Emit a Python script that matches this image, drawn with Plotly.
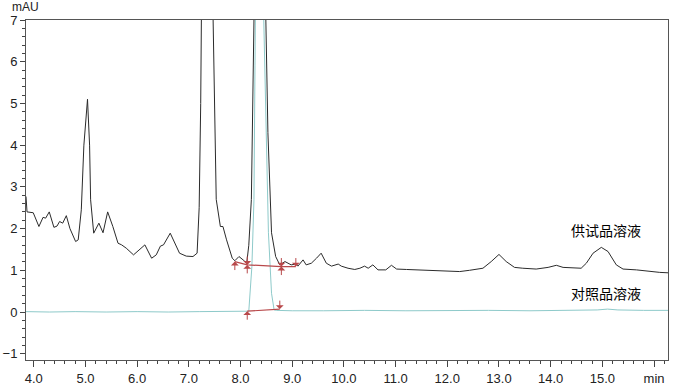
import plotly.graph_objects as go

# Sample solution chromatogram (time in min, signal in mAU)
sample_t = [3.85, 3.87, 3.99, 4.10, 4.18, 4.23, 4.30, 4.39, 4.45, 4.50, 4.56, 4.63, 4.70, 4.81, 4.86,
            4.92, 4.97, 5.04, 5.08, 5.10, 5.16, 5.26, 5.34, 5.43, 5.53, 5.63, 5.70, 5.79, 5.93, 6.05,
            6.15, 6.28, 6.37, 6.45, 6.51, 6.64, 6.73, 6.82, 6.95, 7.08, 7.16, 7.20, 7.23, 7.26, 7.36,
            7.47, 7.53, 7.61, 7.66, 7.73, 7.84, 7.89, 7.97, 8.05, 8.12, 8.16, 8.21, 8.26, 8.37, 8.49,
            8.53, 8.60, 8.68, 8.76, 8.86, 8.98, 9.07, 9.11, 9.21, 9.27, 9.37, 9.47, 9.56, 9.66, 9.76,
            9.89, 9.95, 10.08, 10.21, 10.31, 10.40, 10.47, 10.56, 10.66, 10.81, 10.92, 11.02, 11.21,
            11.47, 11.72, 11.98, 12.24, 12.43, 12.69, 12.85, 13.00, 13.14, 13.30, 13.46, 13.72, 13.95,
            14.11, 14.24, 14.43, 14.59, 14.69, 14.82, 14.98, 15.11, 15.27, 15.40, 15.66, 15.85, 16.11, 16.27]
sample_v = [2.77, 2.40, 2.38, 2.05, 2.27, 2.25, 2.40, 2.03, 2.06, 2.17, 2.13, 2.31, 2.00, 1.69, 1.73,
            2.45, 4.00, 5.10, 4.00, 2.69, 1.89, 2.13, 1.90, 2.40, 2.05, 1.65, 1.61, 1.53, 1.37, 1.49,
            1.61, 1.29, 1.37, 1.58, 1.61, 1.89, 1.65, 1.41, 1.34, 1.33, 1.41, 2.50, 5.00, 7.00, 25.0,
            7.00, 2.70, 2.05, 2.05, 1.73, 1.29, 1.23, 1.33, 1.25, 1.17, 1.60, 2.70, 7.00, 30.0, 7.00,
            4.30, 1.90, 1.33, 1.13, 1.21, 1.13, 1.15, 1.10, 1.25, 1.13, 1.17, 1.29, 1.41, 1.17, 1.10,
            1.15, 1.10, 1.05, 1.02, 1.05, 1.10, 1.05, 1.13, 1.01, 1.01, 1.12, 1.03, 1.02,
            1.01, 0.99, 0.98, 0.97, 1.00, 1.05, 1.21, 1.38, 1.21, 1.07, 1.05, 1.03, 1.07,
            1.12, 1.07, 1.05, 1.05, 1.17, 1.41, 1.55, 1.45, 1.13, 1.03, 1.01, 0.98, 0.95, 0.94]

# Reference solution chromatogram
ref_t = [3.85, 4.30, 4.80, 5.40, 6.00, 6.60, 7.20, 7.80, 8.10, 8.16, 8.22, 8.26, 8.28, 8.29, 8.37,
         8.45, 8.49, 8.54, 8.60, 8.65, 8.70, 9.00, 9.60, 10.40, 11.20, 12.00, 12.80, 13.60, 14.40,
         14.90, 15.10, 15.30, 15.80, 16.27]
ref_v = [0.01, 0.00, 0.01, 0.00, 0.01, 0.00, 0.01, 0.01, 0.01, 0.02, 1.09, 2.69, 5.90, 7.00, 20.0,
         7.00, 4.30, 1.90, 0.45, 0.05, 0.04, 0.03, 0.03, 0.04, 0.03, 0.04, 0.04, 0.03, 0.04,
         0.05, 0.07, 0.05, 0.04, 0.04]

# Integration baselines
sample_base_t = [7.89, 8.13, 8.79, 9.07]
sample_base_v = [1.21, 1.13, 1.09, 1.09]
sample_up_t = [7.89, 8.13, 8.79]
sample_up_v = [1.21, 1.13, 1.09]
sample_down_t = [8.13, 8.79, 9.07]
sample_down_v = [1.13, 1.09, 1.09]
ref_base_t = [8.13, 8.76]
ref_base_v = [0.02, 0.07]

x_ticks = [4, 5, 6, 7, 8, 9, 10, 11, 12, 13, 14, 15, 16]
x_tick_text = ["4.0", "5.0", "6.0", "7.0", "8.0", "9.0", "10.0", "11.0", "12.0", "13.0", "14.0", "15.0", "min"]
labels = ["供试品溶液", "对照品溶液"]
label_t = [15.07, 15.07]
label_v = [1.97, 0.46]

red = "#b8484a"
fig = go.Figure()
fig.add_trace(go.Scatter(x=ref_t, y=ref_v, mode="lines",
                         line=dict(color="#8ecaca", width=1), showlegend=False))
fig.add_trace(go.Scatter(x=sample_t, y=sample_v, mode="lines",
                         line=dict(color="#2b2b2b", width=1), showlegend=False))
fig.add_trace(go.Scatter(x=sample_base_t, y=sample_base_v, mode="lines",
                         line=dict(color=red, width=1.2), showlegend=False))
fig.add_trace(go.Scatter(x=ref_base_t, y=ref_base_v, mode="lines",
                         line=dict(color=red, width=1.2), showlegend=False))

anns = []
for t, v in zip(sample_up_t, sample_up_v):
    anns.append(dict(x=t, y=v, ax=0, ay=10, showarrow=True, arrowhead=1, arrowsize=1.3,
                     arrowwidth=1, arrowcolor=red, text=""))
for t, v in zip(sample_down_t, sample_down_v):
    anns.append(dict(x=t, y=v, ax=0, ay=-10, showarrow=True, arrowhead=1, arrowsize=1.3,
                     arrowwidth=1, arrowcolor=red, text=""))
anns.append(dict(x=ref_base_t[0], y=ref_base_v[0], ax=0, ay=10, showarrow=True, arrowhead=1,
                 arrowsize=1.3, arrowwidth=1, arrowcolor=red, text=""))
anns.append(dict(x=ref_base_t[1], y=ref_base_v[1], ax=0, ay=-10, showarrow=True, arrowhead=1,
                 arrowsize=1.3, arrowwidth=1, arrowcolor=red, text=""))
for txt, t, v in zip(labels, label_t, label_v):
    anns.append(dict(x=t, y=v, text=txt, showarrow=False, xanchor="center", yanchor="middle",
                     font=dict(family="Noto Sans CJK SC", size=14, color="#000")))
anns.append(dict(xref="paper", yref="paper", x=0, y=1, text="mAU", showarrow=False,
                 xanchor="center", yanchor="middle", yshift=13, xshift=-1,
                 font=dict(family="Liberation Sans", size=12, color="#222")))

fig.update_layout(
    width=680, height=387,
    margin=dict(l=26, r=12, t=20, b=27),
    paper_bgcolor="white", plot_bgcolor="white",
    annotations=anns,
    xaxis=dict(range=[3.85, 16.27], tickvals=x_ticks, ticktext=x_tick_text, automargin=False,
               ticks="outside", ticklen=6, tickcolor="#444", showline=True, linecolor="#555",
               linewidth=1, mirror=True, showgrid=False, zeroline=False,
               tickfont=dict(family="Liberation Sans", size=13, color="#222"),
               minor=dict(tick0=4, dtick=0.2, ticks="outside", ticklen=3, tickcolor="#444", showgrid=False)),
    yaxis=dict(range=[-1.15, 7.0], tick0=0, dtick=1, ticks="outside", ticklen=5, tickcolor="#444",
               automargin=False,
               showline=True, linecolor="#555", linewidth=1, mirror=True, showgrid=False, zeroline=False,
               tickfont=dict(family="Liberation Sans", size=13, color="#222"),
               minor=dict(tick0=0, dtick=0.2, ticks="outside", ticklen=3, tickcolor="#444", showgrid=False)),
)
fig.write_html("out.html", config={"displayModeBar": False},
               post_script="document.body.style.margin='0';")
